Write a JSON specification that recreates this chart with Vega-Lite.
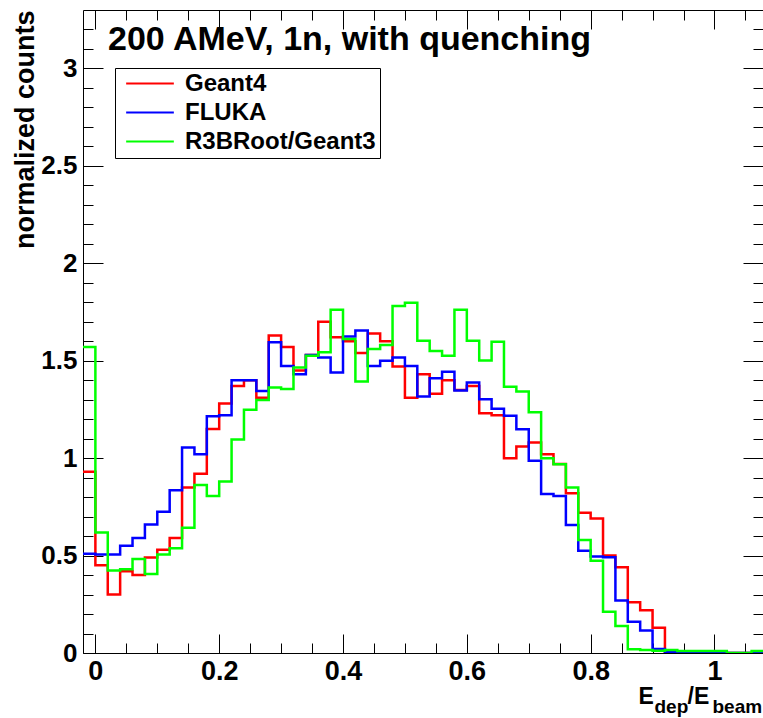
{
  "$schema": "https://vega.github.io/schema/vega-lite/v6.json",
  "width": 680,
  "height": 643,
  "autosize": {"type": "none"},
  "padding": {"left": 83, "top": 10, "right": 0, "bottom": 65},
  "background": "white",
  "config": {
    "view": {"stroke": null},
    "font": "Liberation Sans",
    "axis": {"grid": false, "domainColor": "#000", "tickColor": "#000", "domainWidth": 1, "tickWidth": 1, "labelColor": "#000", "titleColor": "#000", "labelFont": "Liberation Sans", "titleFont": "Liberation Sans"}
  },
  "title": {"text": "200 AMeV, 1n, with quenching", "anchor": "start", "frame": "group", "font": "Liberation Sans", "fontSize": 34, "fontWeight": "bold", "color": "#000", "baseline": "alphabetic", "offset": 0, "dx": 25, "dy": 74},
  "data": {"values": [
    {"model":"Geant4","e":-0.02,"v":0.93},{"model":"Geant4","e":0.00,"v":0.45},{"model":"Geant4","e":0.02,"v":0.30},{"model":"Geant4","e":0.04,"v":0.42},{"model":"Geant4","e":0.06,"v":0.40},{"model":"Geant4","e":0.08,"v":0.49},{"model":"Geant4","e":0.10,"v":0.53},{"model":"Geant4","e":0.12,"v":0.59},{"model":"Geant4","e":0.14,"v":0.85},{"model":"Geant4","e":0.16,"v":0.92},{"model":"Geant4","e":0.18,"v":1.15},{"model":"Geant4","e":0.20,"v":1.28},{"model":"Geant4","e":0.22,"v":1.37},{"model":"Geant4","e":0.24,"v":1.40},{"model":"Geant4","e":0.26,"v":1.31},{"model":"Geant4","e":0.28,"v":1.63},{"model":"Geant4","e":0.30,"v":1.57},{"model":"Geant4","e":0.32,"v":1.45},{"model":"Geant4","e":0.34,"v":1.53},{"model":"Geant4","e":0.36,"v":1.70},{"model":"Geant4","e":0.38,"v":1.62},{"model":"Geant4","e":0.40,"v":1.60},{"model":"Geant4","e":0.42,"v":1.54},{"model":"Geant4","e":0.44,"v":1.64},{"model":"Geant4","e":0.46,"v":1.60},{"model":"Geant4","e":0.48,"v":1.47},{"model":"Geant4","e":0.50,"v":1.31},{"model":"Geant4","e":0.52,"v":1.43},{"model":"Geant4","e":0.54,"v":1.33},{"model":"Geant4","e":0.56,"v":1.40},{"model":"Geant4","e":0.58,"v":1.35},{"model":"Geant4","e":0.60,"v":1.37},{"model":"Geant4","e":0.62,"v":1.23},{"model":"Geant4","e":0.64,"v":1.22},{"model":"Geant4","e":0.66,"v":1.00},{"model":"Geant4","e":0.68,"v":1.06},{"model":"Geant4","e":0.70,"v":1.08},{"model":"Geant4","e":0.72,"v":1.02},{"model":"Geant4","e":0.74,"v":0.97},{"model":"Geant4","e":0.76,"v":0.82},{"model":"Geant4","e":0.78,"v":0.72},{"model":"Geant4","e":0.80,"v":0.69},{"model":"Geant4","e":0.82,"v":0.50},{"model":"Geant4","e":0.84,"v":0.44},{"model":"Geant4","e":0.86,"v":0.26},{"model":"Geant4","e":0.88,"v":0.22},{"model":"Geant4","e":0.90,"v":0.13},{"model":"Geant4","e":0.92,"v":0},{"model":"Geant4","e":0.94,"v":0},{"model":"Geant4","e":0.96,"v":0},{"model":"Geant4","e":0.98,"v":0},{"model":"Geant4","e":1.00,"v":0},{"model":"Geant4","e":1.02,"v":0},{"model":"Geant4","e":1.04,"v":0},{"model":"Geant4","e":1.06,"v":0},{"model":"Geant4","e":1.08,"v":0},
    {"model":"FLUKA","e":-0.02,"v":0.51},{"model":"FLUKA","e":0.00,"v":0.505},{"model":"FLUKA","e":0.02,"v":0.505},{"model":"FLUKA","e":0.04,"v":0.55},{"model":"FLUKA","e":0.06,"v":0.59},{"model":"FLUKA","e":0.08,"v":0.66},{"model":"FLUKA","e":0.10,"v":0.725},{"model":"FLUKA","e":0.12,"v":0.835},{"model":"FLUKA","e":0.14,"v":1.055},{"model":"FLUKA","e":0.16,"v":1.02},{"model":"FLUKA","e":0.18,"v":1.215},{"model":"FLUKA","e":0.20,"v":1.22},{"model":"FLUKA","e":0.22,"v":1.40},{"model":"FLUKA","e":0.24,"v":1.40},{"model":"FLUKA","e":0.26,"v":1.345},{"model":"FLUKA","e":0.28,"v":1.595},{"model":"FLUKA","e":0.30,"v":1.473},{"model":"FLUKA","e":0.32,"v":1.43},{"model":"FLUKA","e":0.34,"v":1.53},{"model":"FLUKA","e":0.36,"v":1.516},{"model":"FLUKA","e":0.38,"v":1.44},{"model":"FLUKA","e":0.40,"v":1.624},{"model":"FLUKA","e":0.42,"v":1.655},{"model":"FLUKA","e":0.44,"v":1.473},{"model":"FLUKA","e":0.46,"v":1.50},{"model":"FLUKA","e":0.48,"v":1.516},{"model":"FLUKA","e":0.50,"v":1.473},{"model":"FLUKA","e":0.52,"v":1.316},{"model":"FLUKA","e":0.54,"v":1.41},{"model":"FLUKA","e":0.56,"v":1.444},{"model":"FLUKA","e":0.58,"v":1.347},{"model":"FLUKA","e":0.60,"v":1.388},{"model":"FLUKA","e":0.62,"v":1.302},{"model":"FLUKA","e":0.64,"v":1.253},{"model":"FLUKA","e":0.66,"v":1.218},{"model":"FLUKA","e":0.68,"v":1.148},{"model":"FLUKA","e":0.70,"v":0.987},{"model":"FLUKA","e":0.72,"v":0.816},{"model":"FLUKA","e":0.74,"v":0.806},{"model":"FLUKA","e":0.76,"v":0.657},{"model":"FLUKA","e":0.78,"v":0.525},{"model":"FLUKA","e":0.80,"v":0.495},{"model":"FLUKA","e":0.82,"v":0.491},{"model":"FLUKA","e":0.84,"v":0.269},{"model":"FLUKA","e":0.86,"v":0.161},{"model":"FLUKA","e":0.88,"v":0.115},{"model":"FLUKA","e":0.90,"v":0.02},{"model":"FLUKA","e":0.92,"v":0.005},{"model":"FLUKA","e":0.94,"v":0.003},{"model":"FLUKA","e":0.96,"v":0.003},{"model":"FLUKA","e":0.98,"v":0.003},{"model":"FLUKA","e":1.00,"v":0.003},{"model":"FLUKA","e":1.02,"v":0},{"model":"FLUKA","e":1.04,"v":0},{"model":"FLUKA","e":1.06,"v":0},{"model":"FLUKA","e":1.08,"v":0},
    {"model":"R3BRoot/Geant3","e":-0.02,"v":1.57},{"model":"R3BRoot/Geant3","e":0.00,"v":0.618},{"model":"R3BRoot/Geant3","e":0.02,"v":0.423},{"model":"R3BRoot/Geant3","e":0.04,"v":0.43},{"model":"R3BRoot/Geant3","e":0.06,"v":0.483},{"model":"R3BRoot/Geant3","e":0.08,"v":0.406},{"model":"R3BRoot/Geant3","e":0.10,"v":0.506},{"model":"R3BRoot/Geant3","e":0.12,"v":0.537},{"model":"R3BRoot/Geant3","e":0.14,"v":0.643},{"model":"R3BRoot/Geant3","e":0.16,"v":0.862},{"model":"R3BRoot/Geant3","e":0.18,"v":0.806},{"model":"R3BRoot/Geant3","e":0.20,"v":0.88},{"model":"R3BRoot/Geant3","e":0.22,"v":1.096},{"model":"R3BRoot/Geant3","e":0.24,"v":1.248},{"model":"R3BRoot/Geant3","e":0.26,"v":1.299},{"model":"R3BRoot/Geant3","e":0.28,"v":1.362},{"model":"R3BRoot/Geant3","e":0.30,"v":1.355},{"model":"R3BRoot/Geant3","e":0.32,"v":1.465},{"model":"R3BRoot/Geant3","e":0.34,"v":1.525},{"model":"R3BRoot/Geant3","e":0.36,"v":1.543},{"model":"R3BRoot/Geant3","e":0.38,"v":1.761},{"model":"R3BRoot/Geant3","e":0.40,"v":1.612},{"model":"R3BRoot/Geant3","e":0.42,"v":1.393},{"model":"R3BRoot/Geant3","e":0.44,"v":1.56},{"model":"R3BRoot/Geant3","e":0.46,"v":1.581},{"model":"R3BRoot/Geant3","e":0.48,"v":1.781},{"model":"R3BRoot/Geant3","e":0.50,"v":1.798},{"model":"R3BRoot/Geant3","e":0.52,"v":1.602},{"model":"R3BRoot/Geant3","e":0.54,"v":1.55},{"model":"R3BRoot/Geant3","e":0.56,"v":1.525},{"model":"R3BRoot/Geant3","e":0.58,"v":1.761},{"model":"R3BRoot/Geant3","e":0.60,"v":1.602},{"model":"R3BRoot/Geant3","e":0.62,"v":1.501},{"model":"R3BRoot/Geant3","e":0.64,"v":1.598},{"model":"R3BRoot/Geant3","e":0.66,"v":1.367},{"model":"R3BRoot/Geant3","e":0.68,"v":1.342},{"model":"R3BRoot/Geant3","e":0.70,"v":1.235},{"model":"R3BRoot/Geant3","e":0.72,"v":0.999},{"model":"R3BRoot/Geant3","e":0.74,"v":0.969},{"model":"R3BRoot/Geant3","e":0.76,"v":0.849},{"model":"R3BRoot/Geant3","e":0.78,"v":0.58},{"model":"R3BRoot/Geant3","e":0.80,"v":0.474},{"model":"R3BRoot/Geant3","e":0.82,"v":0.212},{"model":"R3BRoot/Geant3","e":0.84,"v":0.139},{"model":"R3BRoot/Geant3","e":0.86,"v":0.019},{"model":"R3BRoot/Geant3","e":0.88,"v":0.015},{"model":"R3BRoot/Geant3","e":0.90,"v":0.012},{"model":"R3BRoot/Geant3","e":0.92,"v":0.015},{"model":"R3BRoot/Geant3","e":0.94,"v":0.01},{"model":"R3BRoot/Geant3","e":0.96,"v":0.01},{"model":"R3BRoot/Geant3","e":0.98,"v":0.01},{"model":"R3BRoot/Geant3","e":1.00,"v":0.01},{"model":"R3BRoot/Geant3","e":1.02,"v":0},{"model":"R3BRoot/Geant3","e":1.04,"v":0},{"model":"R3BRoot/Geant3","e":1.06,"v":0.01},{"model":"R3BRoot/Geant3","e":1.08,"v":0.01}
  ]},
  "layer": [
    {
      "mark": {"type": "line", "interpolate": "step-after", "strokeWidth": 2.5, "clip": true},
      "encoding": {
        "x": {"field": "e", "type": "quantitative", "scale": {"domain": [-0.02, 1.0784], "nice": false, "zero": false},
          "axis": {"orient": "bottom", "values": [0, 0.2, 0.4, 0.6, 0.8, 1], "format": "~g", "tickSize": -19, "labelPadding": 24, "labelFontSize": 27, "labelFontWeight": "bold", "labelFlush": false, "labelOverlap": false, "domain": true,
            "title": "E", "titleFontSize": 23, "titleFontWeight": "bold", "titleX": 555, "titleY": 50, "titleAlign": "left", "titleBaseline": "alphabetic", "titleAnchor": "start"}},
        "y": {"field": "v", "type": "quantitative", "scale": {"domain": [0, 3.3], "nice": false, "zero": true},
          "axis": {"orient": "left", "values": [0, 0.5, 1, 1.5, 2, 2.5, 3], "format": "~g", "tickSize": -20, "labelPadding": 26, "labelFontSize": 26, "labelFontWeight": "bold", "labelFlush": false, "labelOverlap": false, "domain": true,
            "title": "normalized counts", "titleFontSize": 27, "titleFontWeight": "bold", "titleX": -50, "titleY": 0, "titleAngle": 270, "titleAlign": "right", "titleBaseline": "alphabetic", "titleAnchor": "end"}},
        "color": {"field": "model", "type": "nominal",
          "scale": {"domain": ["Geant4", "FLUKA", "R3BRoot/Geant3"], "range": ["#ff0000", "#0000ff", "#00ff00"]},
          "legend": {"title": null, "orient": "none", "legendX": 32, "legendY": 58, "direction": "vertical", "symbolType": "stroke", "symbolSize": 2275, "symbolStrokeWidth": 2, "symbolOffset": 6, "labelFontSize": 24, "labelFontWeight": "bold", "labelColor": "#000", "labelOffset": 10, "labelLimit": 400, "strokeColor": "#000", "fillColor": "#fff", "padding": 4, "rowPadding": 4, "clipHeight": 23}}
      }
    },
    {
      "mark": {"type": "point", "opacity": 0},
      "encoding": {
        "x": {"field": "e", "type": "quantitative", "axis": {"orient": "bottom", "values": [0, 0.05, 0.1, 0.15, 0.2, 0.25, 0.3, 0.35, 0.4, 0.45, 0.5, 0.55, 0.6, 0.65, 0.7, 0.75, 0.8, 0.85, 0.9, 0.95, 1, 1.05], "tickSize": -10, "labels": false, "domain": false,
          "title": "dep", "titleFontSize": 19, "titleFontWeight": "bold", "titleX": 571, "titleY": 59, "titleAlign": "left", "titleBaseline": "alphabetic", "titleAnchor": "start"}},
        "y": {"field": "v", "type": "quantitative", "axis": {"orient": "left", "values": [0, 0.1, 0.2, 0.3, 0.4, 0.5, 0.6, 0.7, 0.8, 0.9, 1, 1.1, 1.2, 1.3, 1.4, 1.5, 1.6, 1.7, 1.8, 1.9, 2, 2.1, 2.2, 2.3, 2.4, 2.5, 2.6, 2.7, 2.8, 2.9, 3, 3.1, 3.2], "tickSize": -10, "labels": false, "domain": false, "title": null}}
      }
    },
    {
      "mark": {"type": "point", "opacity": 0},
      "encoding": {
        "x": {"field": "e", "type": "quantitative", "axis": {"orient": "top", "values": [0, 0.2, 0.4, 0.6, 0.8, 1], "tickSize": -19, "labels": false, "domain": true,
          "title": "/E", "titleFontSize": 23, "titleFontWeight": "bold", "titleX": 604, "titleY": 693, "titleAlign": "left", "titleBaseline": "alphabetic", "titleAnchor": "start"}},
        "y": {"field": "v", "type": "quantitative", "axis": {"orient": "right", "values": [0, 0.5, 1, 1.5, 2, 2.5, 3], "tickSize": -20, "labels": false, "domain": false, "title": null}}
      }
    },
    {
      "mark": {"type": "point", "opacity": 0},
      "encoding": {
        "x": {"field": "e", "type": "quantitative", "axis": {"orient": "top", "values": [0, 0.05, 0.1, 0.15, 0.2, 0.25, 0.3, 0.35, 0.4, 0.45, 0.5, 0.55, 0.6, 0.65, 0.7, 0.75, 0.8, 0.85, 0.9, 0.95, 1, 1.05], "tickSize": -10, "labels": false, "domain": false,
          "title": "beam", "titleFontSize": 19, "titleFontWeight": "bold", "titleX": 629, "titleY": 702, "titleAlign": "left", "titleBaseline": "alphabetic", "titleAnchor": "start"}},
        "y": {"field": "v", "type": "quantitative", "axis": {"orient": "right", "values": [0, 0.1, 0.2, 0.3, 0.4, 0.5, 0.6, 0.7, 0.8, 0.9, 1, 1.1, 1.2, 1.3, 1.4, 1.5, 1.6, 1.7, 1.8, 1.9, 2, 2.1, 2.2, 2.3, 2.4, 2.5, 2.6, 2.7, 2.8, 2.9, 3, 3.1, 3.2], "tickSize": -10, "labels": false, "domain": false, "title": null}}
      }
    }
  ],
  "resolve": {"axis": {"x": "independent", "y": "independent"}}
}
